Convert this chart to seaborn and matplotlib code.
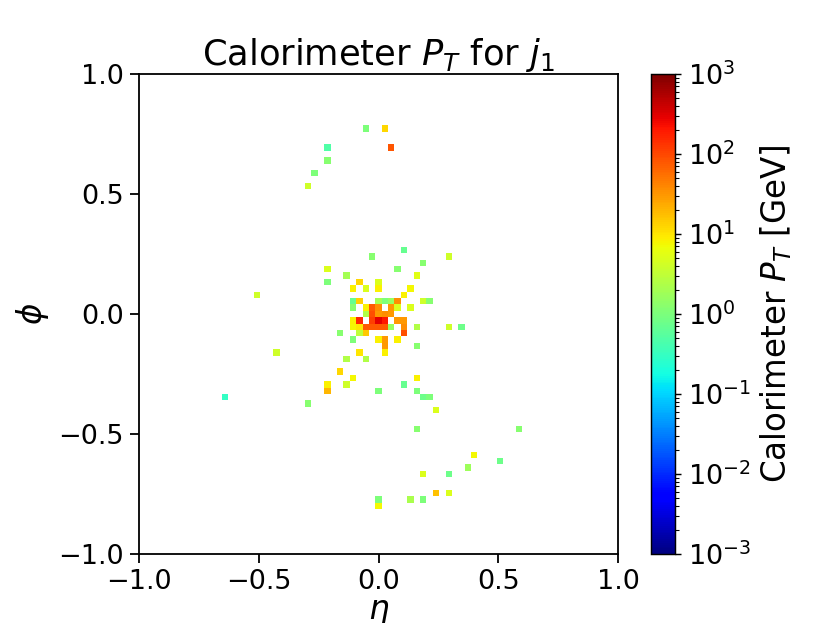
import numpy as np
import matplotlib
matplotlib.use("Agg")
import matplotlib.pyplot as plt
from matplotlib.colors import LogNorm
import seaborn as sns

# calorimeter deposits of the leading jet (eta, phi, pT in GeV)
eta = [-0.053, 0.027, -0.213, 0.053, -0.213, -0.267, -0.293,
       0.107, -0.027, 0.293, 0.187, -0.213, 0.08, -0.133, 0.16, -0.213,
       -0.08, 0.0, -0.107, -0.053, 0.0, 0.133, -0.507, 0.107,
       -0.107, -0.08, 0.0, 0.027, 0.053, 0.08, 0.187, 0.213,
       -0.107, -0.053, -0.027, 0.0, 0.053, 0.08, 0.133,
       -0.053, -0.027, 0.0, 0.027, 0.053,
       -0.107, -0.08, -0.027, 0.0, 0.027, 0.08, 0.107,
       -0.107, -0.08, -0.053, -0.027, 0.0, 0.027, 0.053, 0.107, 0.16, 0.293, 0.347,
       -0.16, -0.08, -0.053, 0.107,
       -0.107, 0.0, 0.027, 0.08,
       0.027, 0.16,
       -0.427, -0.08, 0.027,
       -0.133, -0.053,
       -0.16, -0.107, 0.16,
       -0.213, -0.133, 0.107,
       -0.213, 0.0, 0.16,
       -0.64, 0.187, 0.213,
       -0.293, 0.24, 0.16, 0.587,
       0.4, 0.507, 0.373, 0.187, 0.293,
       0.24, 0.293, 0.0, 0.133, 0.187, 0.0]
phi = [0.773, 0.773, 0.693, 0.693, 0.64, 0.587, 0.533,
       0.267, 0.24, 0.24, 0.213, 0.187, 0.187, 0.16, 0.16, 0.133,
       0.133, 0.133, 0.107, 0.107, 0.107, 0.107, 0.08, 0.08,
       0.053, 0.053, 0.053, 0.053, 0.053, 0.053, 0.053, 0.053,
       0.027, 0.027, 0.027, 0.027, 0.027, 0.027, 0.027,
       0.0, 0.0, 0.0, 0.0, 0.0,
       -0.027, -0.027, -0.027, -0.027, -0.027, -0.027, -0.027,
       -0.053, -0.053, -0.053, -0.053, -0.053, -0.053, -0.053, -0.053, -0.053, -0.053, -0.053,
       -0.08, -0.08, -0.08, -0.08,
       -0.107, -0.107, -0.107, -0.107,
       -0.133, -0.133,
       -0.16, -0.16, -0.16,
       -0.187, -0.187,
       -0.24, -0.267, -0.267,
       -0.293, -0.293, -0.293,
       -0.32, -0.32, -0.32,
       -0.347, -0.347, -0.347,
       -0.373, -0.40, -0.48, -0.48,
       -0.587, -0.613, -0.64, -0.667, -0.667,
       -0.747, -0.747, -0.773, -0.773, -0.773, -0.80]
pt = [1.0, 12.0, 0.47, 80.0, 1.2, 1.0, 4.0,
      0.7, 1.2, 4.0, 1.2, 4.9, 1.2, 2.0, 5.5, 1.0,
      12.0, 4.9, 8.5, 4.9, 8.5, 7.4, 4.0, 8.5,
      0.7, 14.0, 2.0, 1.0, 1.6, 36.0, 4.0, 1.2,
      1.2, 8.5, 78.0, 36.0, 31.0, 4.9, 4.9,
      2.5, 90.0, 31.0, 36.0, 31.0,
      8.5, 165.0, 115.0, 300.0, 200.0, 31.0, 31.0,
      7.4, 10.0, 78.0, 78.0, 78.0, 78.0, 1.6, 36.0, 2.5, 4.0, 0.8,
      1.2, 3.0, 15.0, 90.0,
      1.0, 8.5, 31.0, 8.5,
      31.0, 1.2,
      4.0, 10.0, 8.5,
      2.5, 2.5,
      12.0, 7.4, 8.5,
      8.5, 4.0, 0.7,
      20.0, 1.0, 1.0,
      0.29, 0.8, 1.0,
      1.2, 4.9, 1.2, 1.2,
      7.4, 0.8, 1.8, 4.9, 0.8,
      17.0, 4.9, 1.0, 2.2, 1.0, 7.4]

n_bins = 75
ticks = [-1.0, -0.5, 0.0, 0.5, 1.0]

sns.set_style("ticks", {"axes.edgecolor": "black", "text.color": "black",
                        "xtick.color": "black", "ytick.color": "black",
                        "axes.labelcolor": "black"})
plt.rcParams["font.family"] = ["DejaVu Sans"]
plt.rcParams["xtick.direction"] = "out"
plt.rcParams["ytick.direction"] = "out"

fig = plt.figure(figsize=(830 / 130, 623 / 130), dpi=130)
ax = fig.add_axes([139 / 830, 1 - 554 / 623, 479 / 830, 480 / 623])
cax = fig.add_axes([651 / 830, 1 - 554 / 623, 24 / 830, 480 / 623])

sns.histplot(x=eta, y=phi, weights=pt, bins=n_bins, binrange=((-1, 1), (-1, 1)),
             vmin=1e-3, vmax=1e3, ax=ax)
mesh = ax.collections[0]
mesh.set_cmap(plt.get_cmap("jet"))
mesh.set_norm(LogNorm(vmin=1e-3, vmax=1e3))

ax.set_xlim(-1, 1)
ax.set_ylim(-1, 1)
ax.set_xticks(ticks)
ax.set_yticks(ticks)
ax.tick_params(labelsize=15, length=5, width=1)
ax.set_xlabel(r"$\eta$", fontsize=18, labelpad=0)
ax.set_ylabel(r"$\phi$", fontsize=18)
ax.set_title(r"Calorimeter $P_T$ for $j_1$", fontsize=19.5, pad=4)
for s in ax.spines.values():
    s.set_visible(True)
    s.set_linewidth(1)

cb = fig.colorbar(mesh, cax=cax)
cb.set_label(r"Calorimeter $P_T$ [GeV]", fontsize=18)
cb.ax.tick_params(labelsize=15)

fig.savefig("out.png", dpi=130)
